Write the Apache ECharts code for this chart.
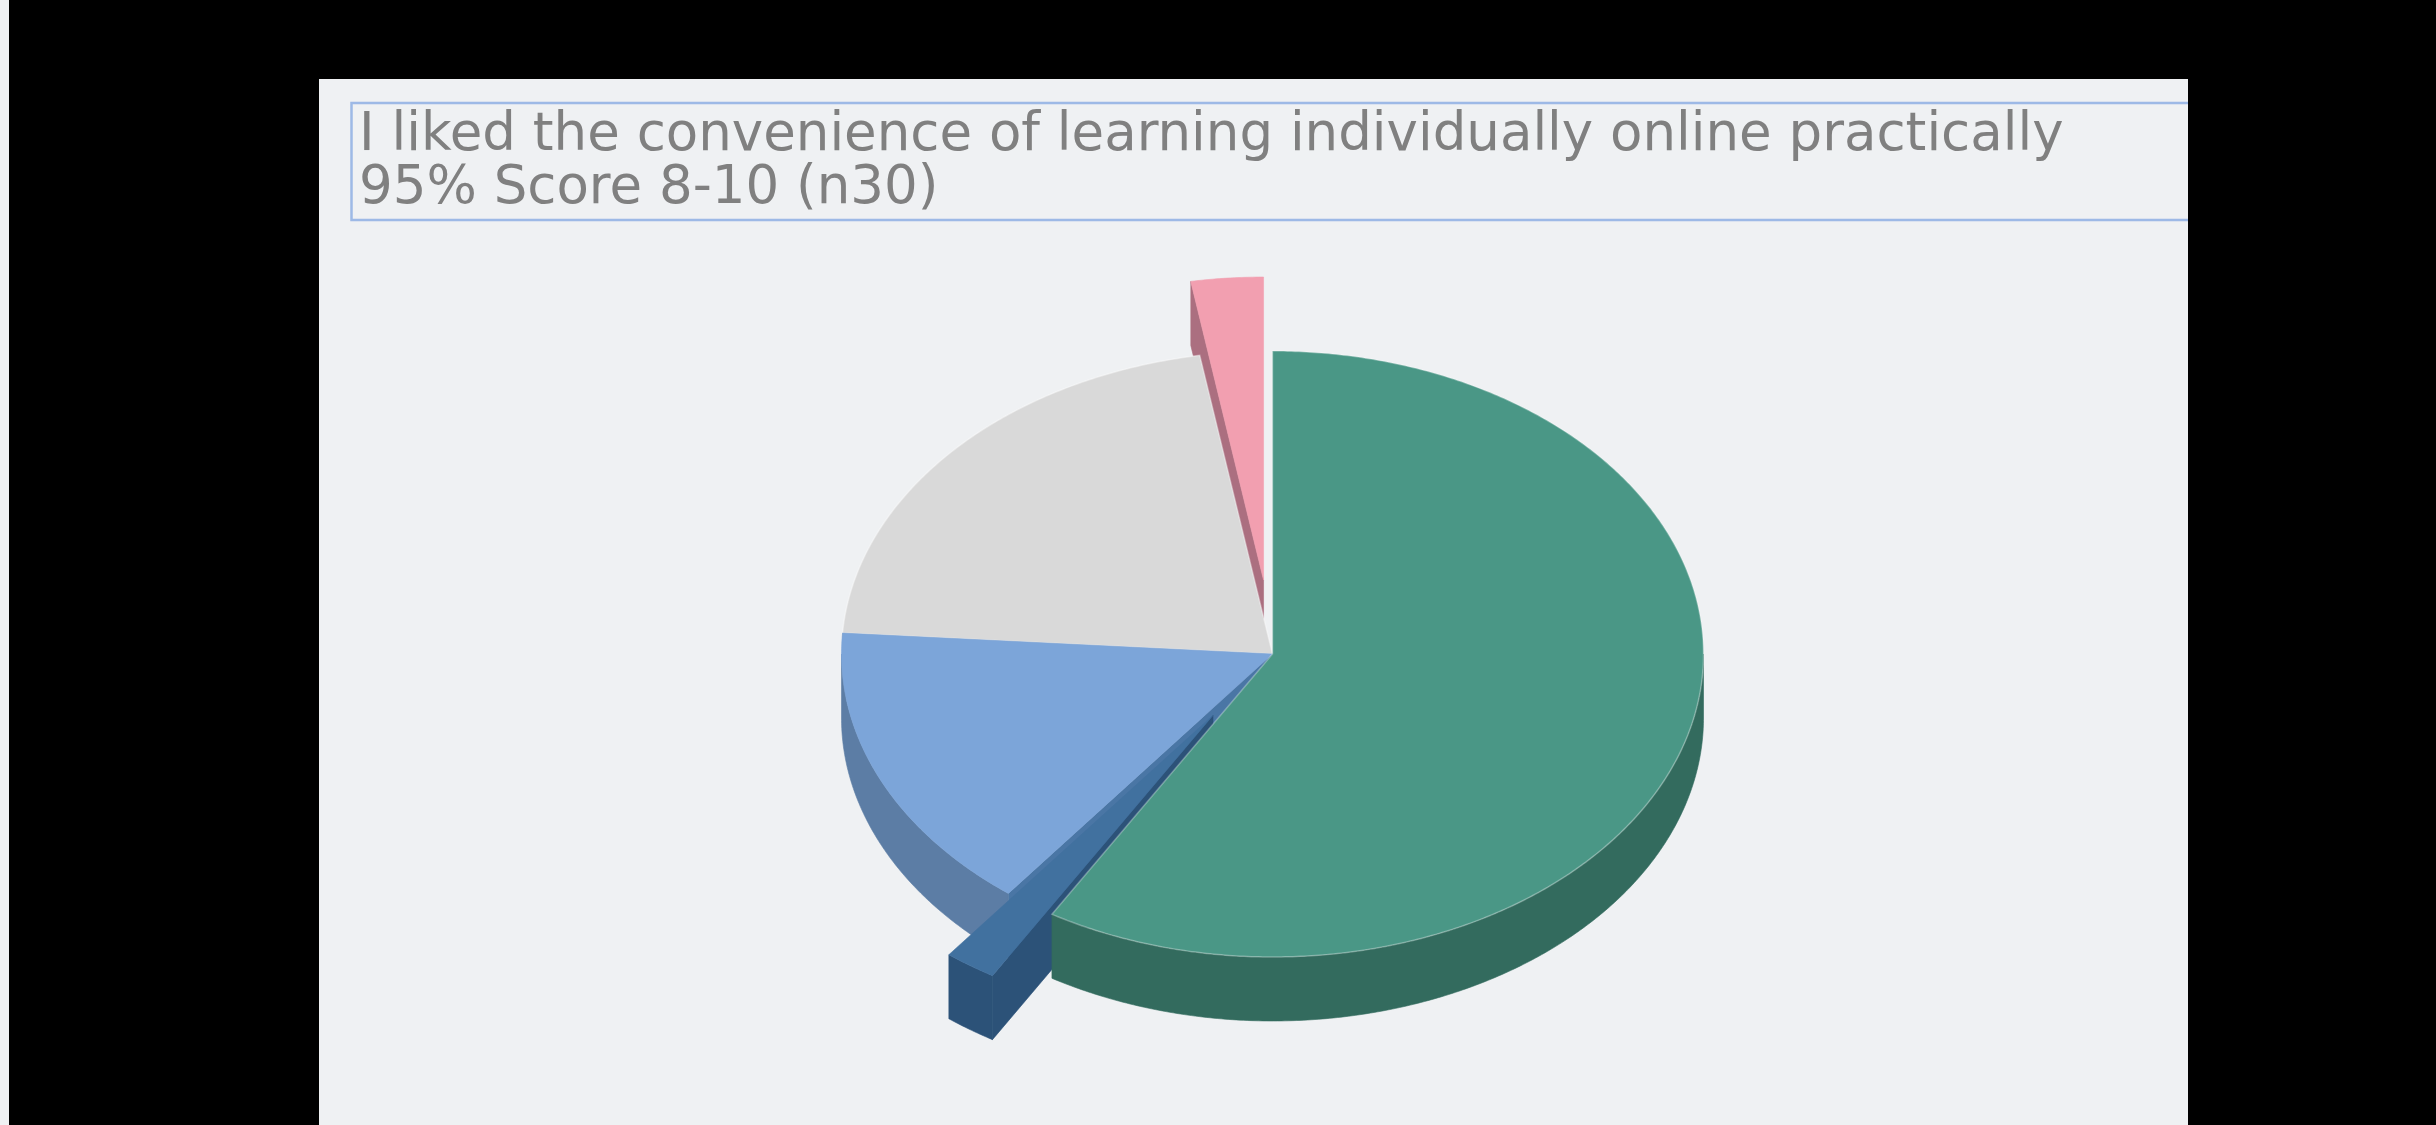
<!DOCTYPE html>
<html>
<head>
<meta charset="utf-8">
<style>html,body{margin:0;padding:0;background:#000}#c{width:2436px;height:1125px}</style>
<script src="https://cdn.jsdelivr.net/npm/echarts@6/dist/echarts.min.js"></script>
</head>
<body>
<div id="c"></div>
<script>
// Data: clockwise from 12 o'clock
var categories = ['Score 10', 'Score 1-7 (a)', 'Score 8', 'Score 9', 'Score 1-7 (b)'];
var sliceValues = [58.55, 1.95, 15.6, 21.2, 2.7];
var titleLines = ['I liked the convenience of learning individually online practically', '95% Score 8-10 (n30)'];

// Styles
var topColors  = ['#4a9786', '#41719f', '#7ca5d9', '#d9d9d9', '#f29fb0'];
var wallColors = ['#336b5e', '#2c5278', '#5c7da5', '#a8a8a8', '#ab6f80'];
var faceColors = ['#336b5e', '#2c5278', '#4a76a5', '#a8a8a8', '#ab6f80'];
var topEdges   = ['rgba(255,255,255,0.3)', null, null, 'rgba(255,255,255,0.4)', null];
var pullOut    = [0, 0.245, 0, 0, 0.245];
var CX = 1272.5, CY = 654, RX = 431, RY = 303, DEPTH = 64;

var total = sliceValues.reduce(function (a, b) { return a + b; }, 0);
function pt(deg, k, ox, oy, dz) {
  var r = deg * Math.PI / 180;
  return [CX + ox + k * RX * Math.sin(r), CY + oy - k * RY * Math.cos(r) + (dz || 0)];
}
function arc(a0, a1, ox, oy, dz) {
  var out = [], n = Math.max(2, Math.ceil(Math.abs(a1 - a0) * 2));
  for (var i = 0; i <= n; i++) out.push(pt(a0 + (a1 - a0) * i / n, 1, ox, oy, dz));
  return out;
}
function poly(points, fill, edge, edgeWidth) {
  return { type: 'polygon', shape: { points: points },
           style: { fill: fill, stroke: edge || fill, lineWidth: edgeWidth || 0.6 } };
}
function renderSlice(params, api) {
  var i = api.value(0);
  var before = 0;
  for (var j = 0; j < i; j++) before += sliceValues[j];
  var a0 = before / total * 360, a1 = (before + api.value(1)) / total * 360;
  var mid = (a0 + a1) / 2 * Math.PI / 180;
  var ox = pullOut[i] * RX * Math.sin(mid), oy = -pullOut[i] * RY * Math.cos(mid);
  var kids = [];
  var centre = [CX + ox, CY + oy];
  var centreLow = [CX + ox, CY + oy + DEPTH];
  // cut faces turned towards the viewer
  if (Math.sin(a0 * Math.PI / 180) < -1e-6) {
    var s = pt(a0, 1, ox, oy);
    kids.push(poly([centre, s, [s[0], s[1] + DEPTH], centreLow], faceColors[i]));
  }
  if (Math.sin(a1 * Math.PI / 180) > 1e-6) {
    var e = pt(a1, 1, ox, oy);
    kids.push(poly([centre, e, [e[0], e[1] + DEPTH], centreLow], faceColors[i]));
  }
  // outer wall: front half only
  var w0 = Math.max(a0, 90), w1 = Math.min(a1, 270);
  if (w1 > w0) {
    kids.push(poly(arc(w0, w1, ox, oy, 0).concat(arc(w1, w0, ox, oy, DEPTH)), wallColors[i]));
  }
  // top, with the faint light edge of the original on some slices
  kids.push(poly([centre].concat(arc(a0, a1, ox, oy, 0)), topColors[i], topEdges[i], topEdges[i] ? 1.5 : 0.6));
  return { type: 'group', children: kids };
}

// draw back to front: last clockwise slice first
var rows = sliceValues.map(function (v, i) { return { name: categories[i], value: [i, v] }; }).reverse();

var chart = echarts.init(document.getElementById('c'), null, { renderer: 'canvas' });
chart.setOption({
  backgroundColor: '#000000',
  animation: false,
  title: {
    text: titleLines.join('\n'),
    left: 354, top: 105,
    textStyle: { fontFamily: 'DejaVu Sans', fontWeight: 'normal', fontSize: 53, lineHeight: 53, color: '#808080' }
  },
  graphic: [
    { type: 'rect', z: -10, silent: true, shape: { x: 0, y: 0, width: 9, height: 1125 }, style: { fill: '#eff1f3' } },
    { type: 'rect', z: -10, silent: true, shape: { x: 319, y: 79, width: 1869, height: 1046 }, style: { fill: '#eff1f3' } },
    { type: 'polyline', z: -9, silent: true, shape: { points: [[2188, 103], [351.5, 103], [351.5, 220], [2188, 220]] },
      style: { fill: null, stroke: '#9db9e6', lineWidth: 2.5 } }
  ],
  series: [{
    type: 'custom',
    coordinateSystem: 'none',
    silent: true,
    renderItem: renderSlice,
    data: rows
  }]
});
</script>
</body>
</html>
